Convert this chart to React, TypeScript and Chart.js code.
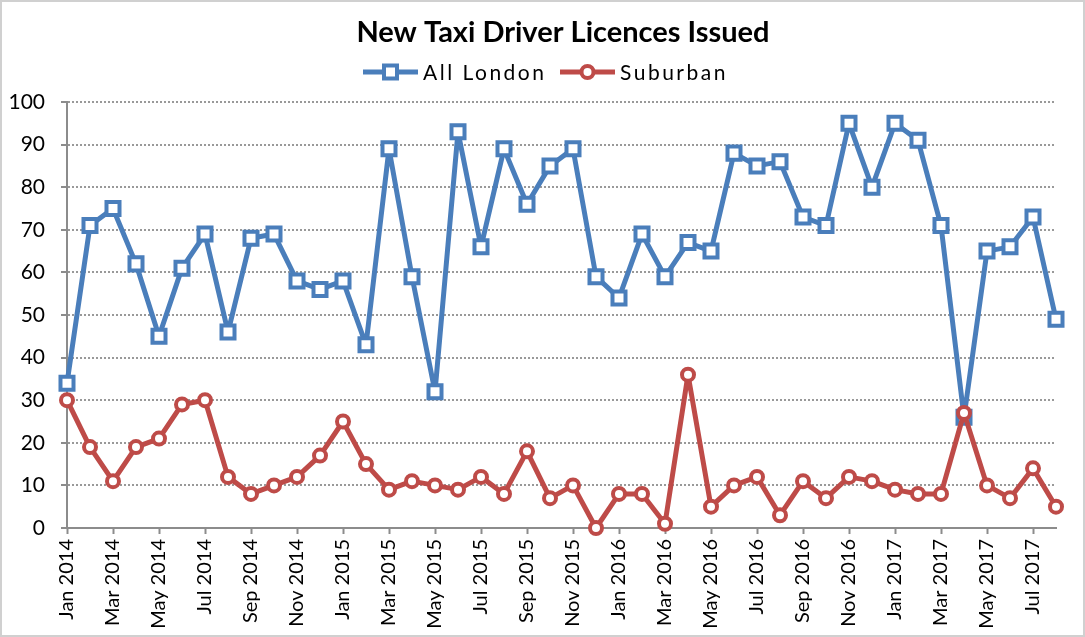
import React, { useEffect, useRef } from 'react';
import { Chart, registerables } from 'chart.js';

Chart.register(...registerables);

const TITLE = 'New Taxi Driver Licences Issued';
const SERIES_NAMES = ['All London', 'Suburban'];

const months = [
  'Jan 2014', 'Feb 2014', 'Mar 2014', 'Apr 2014', 'May 2014', 'Jun 2014',
  'Jul 2014', 'Aug 2014', 'Sep 2014', 'Oct 2014', 'Nov 2014', 'Dec 2014',
  'Jan 2015', 'Feb 2015', 'Mar 2015', 'Apr 2015', 'May 2015', 'Jun 2015',
  'Jul 2015', 'Aug 2015', 'Sep 2015', 'Oct 2015', 'Nov 2015', 'Dec 2015',
  'Jan 2016', 'Feb 2016', 'Mar 2016', 'Apr 2016', 'May 2016', 'Jun 2016',
  'Jul 2016', 'Aug 2016', 'Sep 2016', 'Oct 2016', 'Nov 2016', 'Dec 2016',
  'Jan 2017', 'Feb 2017', 'Mar 2017', 'Apr 2017', 'May 2017', 'Jun 2017',
  'Jul 2017', 'Aug 2017',
];

const allLondon = [
  34, 71, 75, 62, 45, 61, 69, 46, 68, 69, 58, 56,
  58, 43, 89, 59, 32, 93, 66, 89, 76, 85, 89, 59,
  54, 69, 59, 67, 65, 88, 85, 86, 73, 71, 95, 80,
  95, 91, 71, 26, 65, 66, 73, 49,
];

const suburban = [
  30, 19, 11, 19, 21, 29, 30, 12, 8, 10, 12, 17,
  25, 15, 9, 11, 10, 9, 12, 8, 18, 7, 10, 0,
  8, 8, 1, 36, 5, 10, 12, 3, 11, 7, 12, 11,
  9, 8, 8, 27, 10, 7, 14, 5,
];

const yTicks = { min: 0, max: 100, step: 10 };

const BLUE = '#4a7ebb';
const RED = '#be4b48';
const FONT = 'Lato, "Open Sans", sans-serif';

const headerPlugin = {
  id: 'header',
  beforeDraw(chart: any) {
    const ctx = chart.ctx;
    ctx.save();
    ctx.fillStyle = '#ffffff';
    ctx.fillRect(0, 0, chart.width, chart.height);
    ctx.strokeStyle = '#d0d0d0';
    ctx.lineWidth = 2;
    ctx.strokeRect(1, 1, chart.width - 2, chart.height - 2);
    ctx.restore();
  },
  afterDraw(chart: any) {
    const ctx = chart.ctx;
    ctx.save();
    ctx.fillStyle = '#000000';
    ctx.textAlign = 'center';
    ctx.textBaseline = 'alphabetic';
    ctx.font = `bold 29px ${FONT}`;
    ctx.fillText(TITLE, 563, 42);

    const drawEntry = (x0: number, color: string, square: boolean, text: string) => {
      const y = 72;
      ctx.strokeStyle = color;
      ctx.lineWidth = 5;
      ctx.beginPath();
      ctx.moveTo(x0, y);
      ctx.lineTo(x0 + 55, y);
      ctx.stroke();
      ctx.fillStyle = '#ffffff';
      ctx.lineWidth = 4;
      ctx.beginPath();
      if (square) {
        ctx.rect(x0 + 21, y - 6.5, 13, 13);
      } else {
        ctx.arc(x0 + 27.5, y, 6, 0, Math.PI * 2);
      }
      ctx.fill();
      ctx.stroke();
      ctx.fillStyle = '#000000';
      ctx.textAlign = 'left';
      ctx.font = `21px ${FONT}`;
      try { (ctx as any).letterSpacing = '2.5px'; } catch (e) {}
      ctx.fillText(text, x0 + 60, y + 8);
      try { (ctx as any).letterSpacing = '0px'; } catch (e) {}
    };
    drawEntry(363, BLUE, true, SERIES_NAMES[0]);
    drawEntry(560, RED, false, SERIES_NAMES[1]);
    ctx.restore();
  },
};

export default function App() {
  const ref = useRef<HTMLCanvasElement | null>(null);

  useEffect(() => {
    if (!ref.current) return;
    const chart = new Chart(ref.current, {
      type: 'line',
      data: {
        labels: months,
        datasets: [
          {
            label: SERIES_NAMES[0],
            data: allLondon,
            borderColor: BLUE,
            backgroundColor: '#ffffff',
            borderWidth: 5,
            borderJoinStyle: 'round',
            pointStyle: 'rect',
            pointRadius: 9.2,
            pointBorderWidth: 4,
            pointBackgroundColor: '#ffffff',
            pointBorderColor: BLUE,
            tension: 0,
            order: 2,
            clip: false,
          },
          {
            label: SERIES_NAMES[1],
            data: suburban,
            borderColor: RED,
            backgroundColor: '#ffffff',
            borderWidth: 5,
            borderJoinStyle: 'round',
            pointStyle: 'circle',
            pointRadius: 6,
            pointBorderWidth: 4,
            pointBackgroundColor: '#ffffff',
            pointBorderColor: RED,
            tension: 0,
            order: 1,
            clip: false,
          },
        ],
      },
      options: {
        animation: false,
        responsive: false,
        maintainAspectRatio: false,
        devicePixelRatio: 1,
        layout: { padding: { top: 102, left: 0, right: 27, bottom: 0 } },
        plugins: {
          legend: { display: false },
          title: { display: false },
          tooltip: { enabled: false },
        },
        scales: {
          x: {
            type: 'category',
            offset: false,
            afterFit: (s: any) => { s.height = 109; },
            grid: {
              display: true,
              drawOnChartArea: false,
              drawTicks: true,
              tickLength: 6,
              tickWidth: 2,
              tickColor: (c: any) => (c.index % 2 === 0 ? '#8c8c8c' : 'rgba(0,0,0,0)'),
            },
            border: { display: true, color: '#8c8c8c', width: 2 },
            ticks: {
              autoSkip: false,
              maxRotation: 90,
              minRotation: 90,
              padding: 5,
              color: '#000000',
              font: { family: FONT, size: 20 },
              callback: (_v: any, i: number) => (i % 2 === 0 ? months[i] : ''),
            },
          },
          y: {
            min: yTicks.min,
            max: yTicks.max,
            afterFit: (s: any) => { s.width = 67; },
            grid: {
              display: true,
              drawOnChartArea: true,
              drawTicks: true,
              tickLength: 6,
              tickWidth: 2,
              tickColor: '#8c8c8c',
              tickBorderDash: [],
              color: '#999999',
              lineWidth: 2,
            },
            border: { display: true, color: '#8c8c8c', width: 2, dash: [2, 2] },
            ticks: {
              stepSize: yTicks.step,
              padding: 16,
              color: '#000000',
              font: { family: FONT, size: 21 },
            },
          },
        },
      },
      plugins: [headerPlugin],
    } as any);
    return () => chart.destroy();
  }, []);

  return (
    <div style={{ position: 'fixed', left: 0, top: 0, width: 1085, height: 637 }}>
      <canvas ref={ref} width={1085} height={637} style={{ display: 'block' }} />
    </div>
  );
}
